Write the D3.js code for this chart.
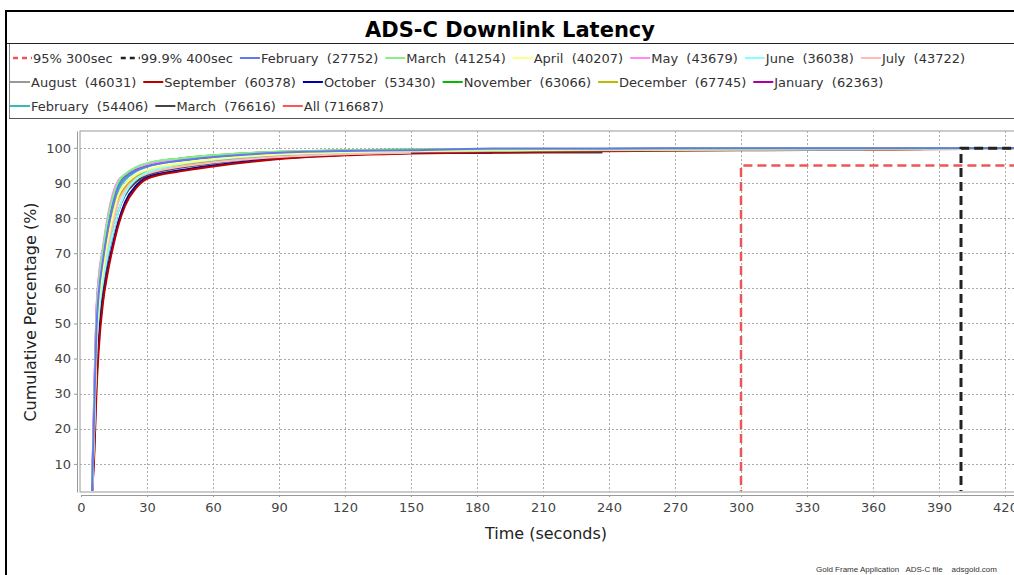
<!DOCTYPE html>
<html>
<head>
<meta charset="utf-8">
<script src="https://cdn.jsdelivr.net/npm/d3@7"></script>
<style>
  body { margin: 0; background: #fff; }
  svg { display: block; }
  text { font-family: "DejaVu Sans", sans-serif; }
</style>
</head>
<body>
<svg id="chart" width="1014" height="575"></svg>
<script>
// time grid (seconds) shared by all the monthly curves
const times = [5, 6, 7, 8, 10, 12, 15, 17, 20, 25, 30, 45, 60, 90, 120, 150, 187, 237, 300, 356, 382, 430];

// cumulative percentage per month (shorter arrays = curve ends early)
const febA = [2, 25, 48, 58, 68, 76, 85, 89, 91.5, 93.6, 94.7, 96.4, 97.4, 98.6, 99.1, 99.3, 99.8, 99.85, 99.9, 99.9, 99.9, 99.95];
const marA = [2, 27, 51, 61, 71, 79, 87, 90.3, 92.5, 94.5, 95.6, 97.0, 97.9, 98.9, 99.3, 99.5, 99.6, 99.7, 99.8, 99.8, 99.85, 99.9];
const apr  = [2, 22, 45, 55, 65, 73, 82, 86.5, 89.5, 92.3, 93.7, 95.6, 96.8, 98.2, 98.8, 99.1, 99.3, 99.5, 99.6, 99.7, 99.7, 99.8];
const may  = [2, 30, 54, 63, 72, 80, 88, 90.8, 92.4, 94.3, 95.3, 96.8, 97.7, 98.8, 99.2, 99.4, 99.6, 99.7, 99.8, 99.85, 99.85, 99.9];
const jun  = [2, 20, 42, 52, 62, 69, 77, 82, 87, 91, 93, 95.3, 96.6, 98.1, 98.7, 99.0, 99.3, 99.5, 99.6, 99.7, 99.7, 99.8];
const jul  = [2, 20, 43, 53, 63, 71, 80, 84.5, 88, 91.2, 92.6, 94.6, 95.8, 97.4, 98.2, 98.6];
const aug  = [2, 22, 45, 55, 65, 73, 82, 86.5, 89.5, 92.2, 93.5, 95.4, 96.5, 97.9, 98.6, 98.9, 99.1, 99.3, 99.4, 99.4];
const sep  = [1.5, 12, 30, 42, 56, 64, 73, 78, 83.5, 88.5, 91.2, 93.3, 94.7, 96.8, 97.9, 98.4, 98.7, 99.0, 99.3, 99.5, 99.6, 99.8];
const oct  = [1.5, 14, 33, 45, 57, 65, 74, 79, 84.5, 89.2, 91.6, 93.6, 95.0, 97.0, 98.0, 98.5, 98.7];
const nov  = [2, 26, 50, 60, 70, 78, 86.5, 90, 92.2, 94.4, 95.5, 97.0, 97.9, 98.9, 99.3, 99.5, 99.6, 99.7, 99.8, 99.8, 99.85, 99.9];
const dec  = [2, 20, 43, 53, 63, 71, 80, 85, 88.5, 91.8, 93.2, 95.1, 96.3, 97.8, 98.5, 98.9, 99.1, 99.3, 99.5, 99.6, 99.6];
const jan  = [2, 29, 53, 62, 71, 79, 87.5, 90.5, 92, 93.8, 94.9, 96.5, 97.5, 98.6, 99.1, 99.3, 99.5, 99.6, 99.7, 99.8, 99.8, 99.9];
const febB = [2, 23, 46, 56, 66, 74, 83.5, 88, 90.8, 93.3, 94.6, 96.3, 97.3, 98.5, 99.0, 99.3, 99.5, 99.6, 99.7, 99.8, 99.8, 99.9];
const marB = [1.8, 17, 38, 49, 60, 68, 77, 82, 86.5, 90.3, 92.2, 94.3, 95.6, 97.4, 98.2, 98.5, 98.6, 98.7];
const all  = [2, 22, 44, 54, 64, 72, 81, 85.5, 89, 92, 93.5, 95.4, 96.6, 98.0, 98.7, 99.0, 99.3, 99.5, 99.6, 99.7, 99.7, 99.8];

// threshold step lines [time, percent]
const thr95 = [[300, 0], [300, 95], [430, 95]];
const thr999 = [[400, 0], [400, 99.9], [430, 99.9]];

const labels = ["95% 300sec", "99.9% 400sec", "February  (27752)", "March  (41254)", "April  (40207)", "May  (43679)",
  "June  (36038)", "July  (43722)", "August  (46031)", "September  (60378)", "October  (53430)", "November  (63066)",
  "December  (67745)", "January  (62363)", "February  (54406)", "March  (76616)", "All (716687)"];
const colors = ["#ee5555", "#222222", "#6677ee", "#88ee88", "#ffff88", "#ff88ff", "#88ffff", "#ffbbbb", "#999999",
  "#bb0000", "#0000aa", "#00bb00", "#bbbb00", "#aa00aa", "#33bbbb", "#444444", "#ff5555"];
const monthly = [febA, marA, apr, may, jun, jul, aug, sep, oct, nov, dec, jan, febB, marB, all];

const xTicks = d3.range(0, 421, 30);
const yTicks = d3.range(10, 101, 10);

const svg = d3.select("#chart");
const plot = { left: 80, top: 131, right: 1030, bottom: 492 };

const x = d3.scaleLinear().domain([0, 430]).range([81, 1027]);
const y = d3.scaleLinear().domain([2, 104.8]).range([plot.bottom, plot.top]);

// outer frame + title box + legend box
svg.append("path").attr("d", "M6,575 V11 H1020").attr("fill", "none").attr("stroke", "#000").attr("stroke-width", 2);
svg.append("line").attr("x1", 7).attr("x2", 1014).attr("y1", 43.5).attr("y2", 43.5).attr("stroke", "#222");
svg.append("line").attr("x1", 9.5).attr("x2", 9.5).attr("y1", 44).attr("y2", 118).attr("stroke", "#888");
svg.append("line").attr("x1", 9).attr("x2", 1014).attr("y1", 118.5).attr("y2", 118.5).attr("stroke", "#555");

svg.append("text").attr("x", 510).attr("y", 37).attr("text-anchor", "middle")
  .style("font-size", "21px").style("font-weight", "bold").text("ADS-C Downlink Latency");

// legend
const legend = svg.append("g").style("font-size", "13px").attr("fill", "#333");
let lx = 11, ly = 58;
labels.forEach((lab, i) => {
  const g = legend.append("g");
  const txt = g.append("text").attr("xml:space", "preserve").attr("x", 22).attr("y", 4.5).text(lab);
  const w = 22 + txt.node().getComputedTextLength() + 6;
  if (lx + w > 1005) { lx = 9; ly += 24; }
  g.attr("transform", `translate(${lx},${ly})`);
  const mk = g.insert("line", "text").attr("x1", 1).attr("x2", 21).attr("y1", 0).attr("y2", 0)
    .attr("stroke", colors[i]).attr("stroke-width", 2);
  if (i < 2) mk.attr("x1", 2).attr("stroke-dasharray", "5,4").attr("stroke-width", 2.5);
  lx += w;
});

// plot background and grid
svg.append("rect").attr("x", plot.left).attr("y", plot.top).attr("width", plot.right - plot.left)
  .attr("height", plot.bottom - plot.top).attr("fill", "#fff").attr("stroke", "#999");

const grid = svg.append("g").attr("stroke", "#aaa").attr("stroke-dasharray", "2,2").attr("stroke-width", 1);
grid.selectAll(".gx").data(xTicks.slice(1)).join("line")
  .attr("x1", d => Math.round(x(d)) + 0.5).attr("x2", d => Math.round(x(d)) + 0.5)
  .attr("y1", plot.top).attr("y2", plot.bottom);
grid.selectAll(".gy").data(yTicks).join("line")
  .attr("y1", d => Math.round(y(d)) + 0.5).attr("y2", d => Math.round(y(d)) + 0.5)
  .attr("x1", plot.left).attr("x2", plot.right);

// axes
const xAxis = svg.append("g").attr("transform", `translate(0,${plot.bottom + 3})`)
  .call(d3.axisBottom(x).tickValues(xTicks).tickSize(2).tickPadding(6).tickSizeOuter(0));
const yAxis = svg.append("g").attr("transform", `translate(${plot.left - 3},0)`)
  .call(d3.axisLeft(y).tickValues(yTicks).tickSize(3).tickPadding(3).tickSizeOuter(0));
[xAxis, yAxis].forEach(a => {
  a.select(".domain").attr("stroke", "#999");
  a.selectAll(".tick line").attr("stroke", "#999");
  a.selectAll("text").attr("fill", "#444").style("font-size", "13px").style("font-family", "DejaVu Sans, sans-serif");
});

svg.append("text").attr("x", 546).attr("y", 539).attr("text-anchor", "middle").attr("fill", "#222")
  .style("font-size", "16px").text("Time (seconds)");
svg.append("text").attr("transform", "translate(36,312) rotate(-90)").attr("text-anchor", "middle").attr("fill", "#222")
  .style("font-size", "16px").text("Cumulative Percentage (%)");

// curves
svg.append("clipPath").attr("id", "clip").append("rect")
  .attr("x", plot.left + 1).attr("y", plot.top + 1).attr("width", plot.right - plot.left - 2).attr("height", plot.bottom - plot.top - 2);
const lines = svg.append("g").attr("clip-path", "url(#clip)");
const line = d3.line().x(d => x(d[0])).y(d => y(d[1])).curve(d3.curveMonotoneX);
const straight = d3.line().x(d => x(d[0])).y(d => y(d[1]));

// drawn in reverse order so the first series sits on top
monthly.map((vals, i) => ({ pts: vals.map((v, j) => [times[j], v]), color: colors[i + 2] }))
  .reverse()
  .forEach(s => {
    lines.append("path").attr("d", line(s.pts)).attr("fill", "none").attr("stroke", s.color).attr("stroke-width", 2);
  });

lines.append("path").attr("d", straight(thr999)).attr("fill", "none").attr("stroke", colors[1])
  .attr("stroke-width", 3).attr("stroke-dasharray", "9,5");
lines.append("path").attr("d", straight(thr95)).attr("fill", "none").attr("stroke", colors[0])
  .attr("stroke-width", 2.5).attr("stroke-dasharray", "9,5");

svg.append("text").attr("x", 816).attr("y", 572).attr("xml:space", "preserve").attr("fill", "#333")
  .style("font-family", "Liberation Sans, Arial, sans-serif").style("font-size", "8px")
  .text("Gold Frame Application   ADS-C file    adsgold.com");
</script>
</body>
</html>
